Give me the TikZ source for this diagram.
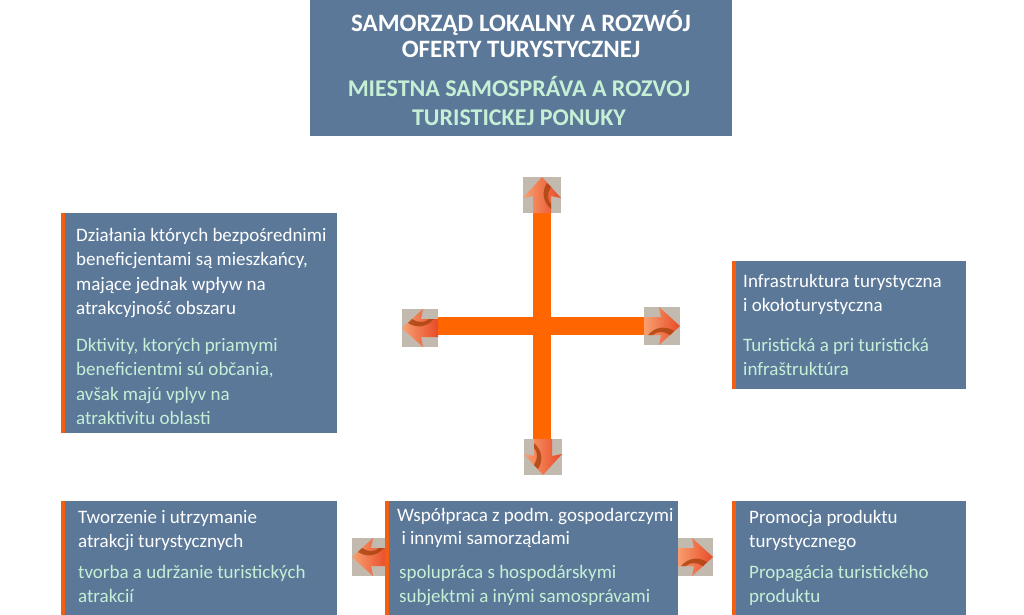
\documentclass[tikz,border=0pt]{standalone}
\usepackage{fontspec}
\setmainfont{Carlito}
\frenchspacing
\definecolor{boxblue}{HTML}{5B7898}
\definecolor{mint}{HTML}{C6F0D6}
\definecolor{crossorange}{HTML}{FF6600}
\definecolor{edgeorange}{HTML}{F06010}
\definecolor{imgbg}{HTML}{C2B9AF}
\definecolor{arrlight}{HTML}{F8A070}
\definecolor{arrred}{HTML}{E84A28}
\definecolor{arrdark}{HTML}{A8420E}
\tikzset{
  panel/.style={fill=boxblue, draw=none, inner sep=0, anchor=north west},
  pltext/.style={anchor=north west, inner sep=0, align=left, text=white, font=\fontsize{19}{24.5}\selectfont},
  sktext/.style={anchor=north west, inner sep=0, align=left, text=mint, font=\fontsize{19}{24.5}\selectfont},
  crossbar/.style={draw=crossorange, line width=18pt},
  arrowimg/.pic={
    \fill[imgbg] (-18,-19) rectangle (18,19);
    \shade[left color=arrlight, right color=arrred]
      (-18,-9) -- (-1,-9) -- (-3,-19) -- (18,0) -- (-3,19) -- (-1,9) -- (-18,9) -- cycle;
    \fill[arrdark, opacity=0.8] (-14,9) .. controls (-6,0) and (4,0) .. (12,5) -- (8,9) .. controls (2,5) and (-5,5) .. (-9,9) -- cycle;
  }
}
\begin{document}
\begin{tikzpicture}[x=1pt,y=-1pt]
\useasboundingbox (0,0) rectangle (1024,614);
\fill[white] (0,0) rectangle (1024,614);

% title
\node[panel, minimum width=422pt, minimum height=136pt] (title) at (310,0) {};
\node[anchor=north, inner sep=0, align=center, text=white, font=\bfseries\fontsize{25}{26}\selectfont] (titlepl) at (521,10) {SAMORZĄD LOKALNY A ROZWÓJ\\OFERTY TURYSTYCZNEJ};
\node[anchor=north, inner sep=0, align=center, text=mint, font=\bfseries\fontsize{24}{29}\selectfont] (titlesk) at (519,76) {MIESTNA SAMOSPRÁVA A ROZVOJ\\TURISTICKEJ PONUKY};

% cross
\coordinate (C) at (542,326);
\coordinate (Ctop) at (542,212);
\coordinate (Cbot) at (542,441);
\coordinate (Cleft) at (437,326);
\coordinate (Cright) at (646,326);
\draw[crossbar] (C) -- (Ctop);
\draw[crossbar] (C) -- (Cbot);
\draw[crossbar] (C) -- (Cleft);
\draw[crossbar] (C) -- (Cright);
\pic[rotate=90] at (542,195) {arrowimg};
\pic[rotate=270] at (543,457) {arrowimg};
\pic[rotate=180] at (420,328) {arrowimg};
\pic at (662,326) {arrowimg};

% bottom middle arrows
\pic[rotate=180] at (370,557) {arrowimg};
\pic at (695,557) {arrowimg};

% left box
\node[panel, minimum width=276pt, minimum height=220pt] (lbox) at (61,213) {};
\fill[edgeorange] (lbox.north west) rectangle ([xshift=4pt]lbox.south west);
\node[pltext] (lpl) at (76,228) {Działania których bezpośrednimi\\beneficjentami są mieszkańcy,\\mające jednak wpływ na\\atrakcyjność obszaru};
\node[sktext] (lsk) at (76,338) {Dktivity, ktorých priamymi\\beneficientmi sú občania,\\avšak majú vplyv na\\atraktivitu oblasti};

% right box
\node[panel, minimum width=234pt, minimum height=128pt] (rbox) at (732,261) {};
\fill[edgeorange] (rbox.north west) rectangle ([xshift=4pt]rbox.south west);
\node[pltext] (rpl) at (743,274) {Infrastruktura turystyczna\\i okołoturystyczna};
\node[sktext] (rsk) at (743,338) {Turistická a pri turistická\\infraštruktúra};

% bottom left box
\node[panel, minimum width=276pt, minimum height=120pt] (blbox) at (61,501) {};
\fill[edgeorange] (blbox.north west) rectangle ([xshift=4pt]blbox.south west);
\node[pltext] (blpl) at (78,510) {Tworzenie i utrzymanie\\atrakcji turystycznych};
\node[sktext] (blsk) at (78,565) {tvorba a udržanie turistických\\atrakcií};

% bottom middle box
\node[panel, minimum width=293pt, minimum height=120pt] (bmbox) at (385,501) {};
\fill[edgeorange] (bmbox.north west) rectangle ([xshift=4pt]bmbox.south west);
\node[pltext, font=\fontsize{19}{23}\selectfont] (bmpl) at (397,508) {Współpraca z podm. gospodarczymi\\\ i innymi samorządami};
\node[sktext] (bmsk) at (399,565) {spolupráca s hospodárskymi\\subjektmi a inými samosprávami};

% bottom right box
\node[panel, minimum width=234pt, minimum height=120pt] (brbox) at (732,501) {};
\fill[edgeorange] (brbox.north west) rectangle ([xshift=4pt]brbox.south west);
\node[pltext] (brpl) at (749,510) {Promocja produktu\\turystycznego};
\node[sktext] (brsk) at (749,565) {Propagácia turistického\\produktu};
\end{tikzpicture}
\end{document}
